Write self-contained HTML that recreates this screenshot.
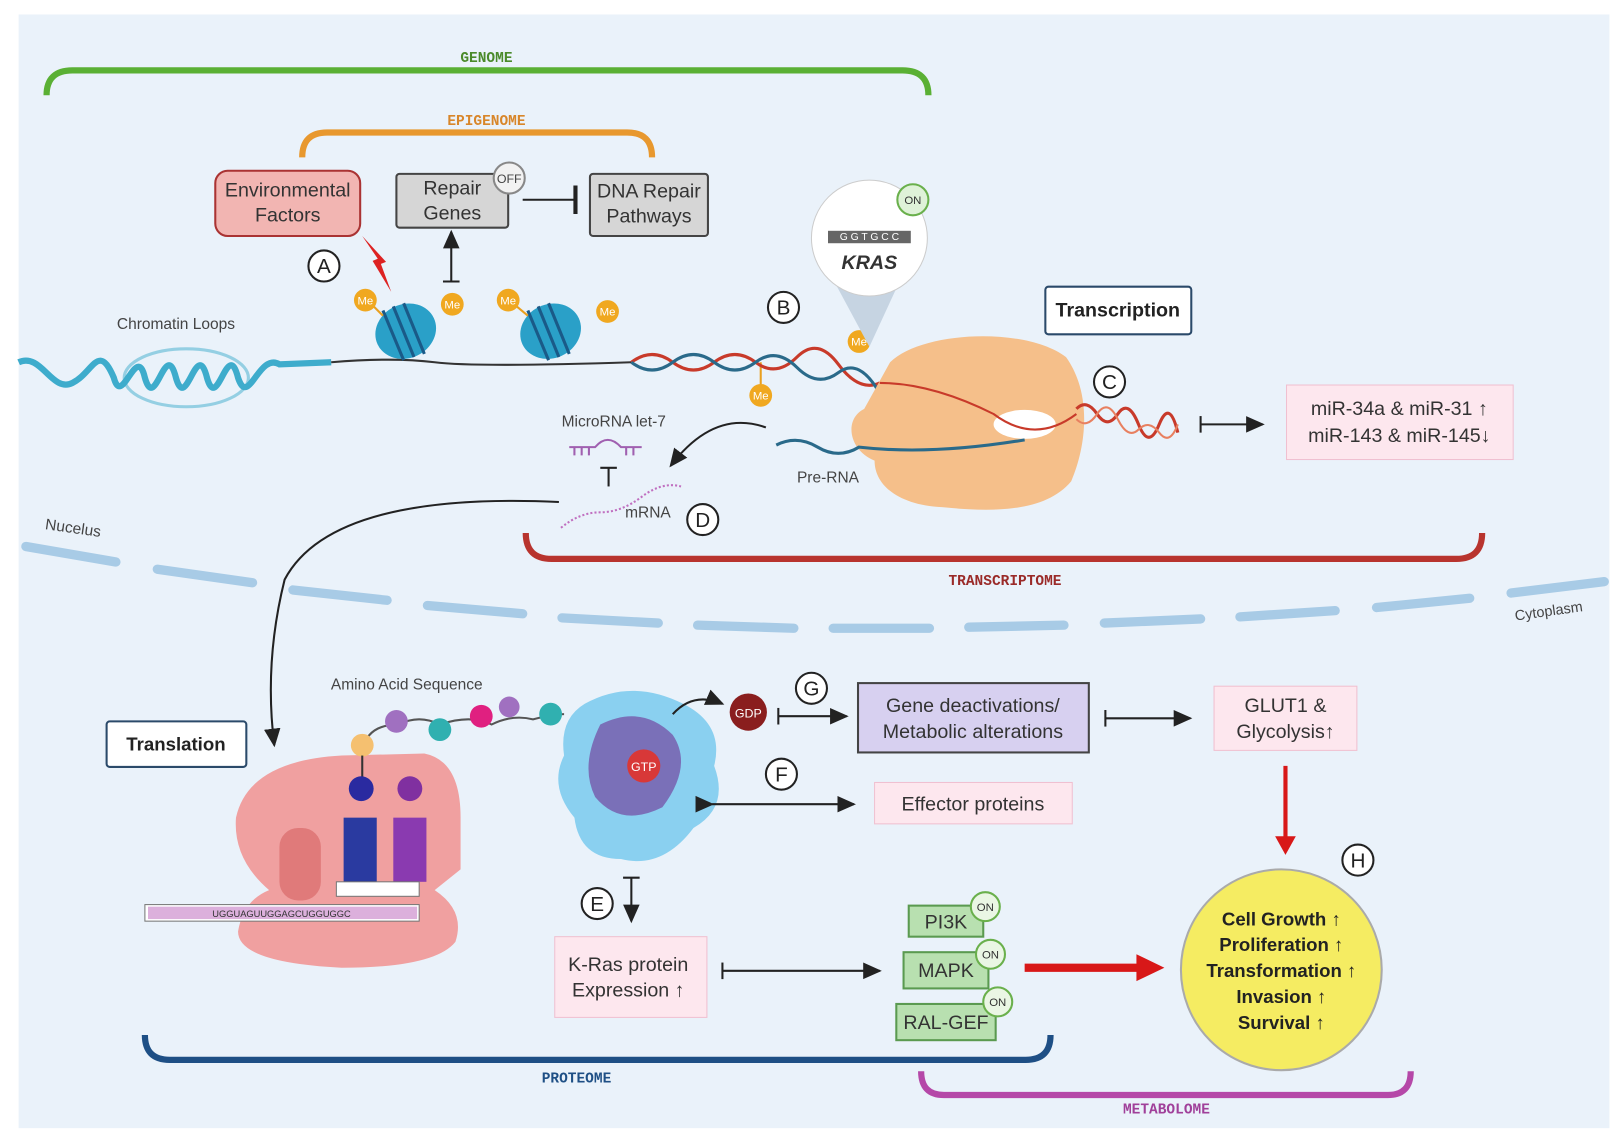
<!DOCTYPE html>
<html><head><meta charset="utf-8"><style>
html,body{margin:0;padding:0;background:#fff;}
svg{display:block;font-family:"Liberation Sans",sans-serif;}
.mono{font-family:"Liberation Mono",monospace;font-weight:bold;font-size:14px;}
.t{font-size:19px;fill:#333;}
.lb{font-size:15px;fill:#444;}
</style></head><body>
<svg width="1621" height="1139" viewBox="0 0 1621 1139" xmlns="http://www.w3.org/2000/svg">
<defs>
<marker id="ah" markerWidth="10" markerHeight="10" refX="8" refY="5" orient="auto"><path d="M0,1 L9,5 L0,9 Z" fill="#222"/></marker>
<marker id="tb" markerWidth="4" markerHeight="14" refX="2" refY="7" orient="auto"><path d="M2,0 L2,14" stroke="#222" stroke-width="2"/></marker>
</defs>
<g transform="scale(1.035)">
<rect x="18" y="14" width="1537" height="1076" fill="#eaf2fa"/>

<!-- brackets -->
<path d="M45,92 Q45,68 70,68 L872,68 Q897,68 897,92" fill="none" stroke="#5ab034" stroke-width="6"/>
<text x="470" y="60" class="mono" fill="#4a8a2a" text-anchor="middle">GENOME</text>
<path d="M292,152 Q292,128 316,128 L606,128 Q630,128 630,152" fill="none" stroke="#e8982e" stroke-width="6"/>
<text x="470" y="121" class="mono" fill="#d8862a" text-anchor="middle">EPIGENOME</text>
<path d="M508,515 Q508,540 533,540 L1407,540 Q1432,540 1432,515" fill="none" stroke="#b8342e" stroke-width="6"/>
<text x="971" y="565" class="mono" fill="#9a2a28" text-anchor="middle">TRANSCRIPTOME</text>
<path d="M140,1000 Q140,1024 164,1024 L991,1024 Q1015,1024 1015,1000" fill="none" stroke="#1e4f85" stroke-width="6"/>
<text x="557" y="1046" class="mono" fill="#1e4f85" text-anchor="middle">PROTEOME</text>
<path d="M890,1035 Q890,1058 912,1058 L1341,1058 Q1363,1058 1363,1035" fill="none" stroke="#b548a8" stroke-width="6"/>
<text x="1127" y="1076" class="mono" fill="#a0409a" text-anchor="middle">METABOLOME</text>

<!-- top boxes -->
<rect x="208" y="165" width="140" height="63" rx="12" fill="#f2b5b2" stroke="#a33" stroke-width="2"/>
<text x="278" y="190" class="t" text-anchor="middle">Environmental</text>
<text x="278" y="214" class="t" text-anchor="middle">Factors</text>
<rect x="383" y="168" width="108" height="52" rx="3" fill="#d6d6d6" stroke="#444" stroke-width="2"/>
<text x="437" y="188" class="t" text-anchor="middle">Repair</text>
<text x="437" y="212" class="t" text-anchor="middle">Genes</text>
<circle cx="492" cy="172" r="15" fill="#f2f2f2" stroke="#888" stroke-width="2"/>
<text x="492" y="177" font-size="12" fill="#444" text-anchor="middle">OFF</text>
<rect x="570" y="168" width="114" height="60" rx="3" fill="#d6d6d6" stroke="#444" stroke-width="2"/>
<text x="627" y="191" class="t" text-anchor="middle">DNA Repair</text>
<text x="627" y="215" class="t" text-anchor="middle">Pathways</text>
<line x1="505" y1="193" x2="556" y2="193" stroke="#222" stroke-width="2" marker-end="url(#tb)"/>
<line x1="436" y1="272" x2="436" y2="224" stroke="#222" stroke-width="2" marker-end="url(#ah)"/>
<line x1="428" y1="272" x2="444" y2="272" stroke="#222" stroke-width="2"/>
<path d="M350,228 L365,250 L360,252 L378,282 L368,255 L373,253 Z" fill="#d22"/>
<g font-size="20" fill="#222" text-anchor="middle">
<circle cx="313" cy="257" r="15" fill="#fff" stroke="#222" stroke-width="2"/><text x="313" y="264">A</text>
<circle cx="757" cy="297" r="15" fill="#fff" stroke="#222" stroke-width="2"/><text x="757" y="304">B</text>
<circle cx="1072" cy="369" r="15" fill="#fff" stroke="#222" stroke-width="2"/><text x="1072" y="376">C</text>
<circle cx="679" cy="502" r="15" fill="#fff" stroke="#222" stroke-width="2"/><text x="679" y="509">D</text>
<circle cx="577" cy="873" r="15" fill="#fff" stroke="#222" stroke-width="2"/><text x="577" y="880">E</text>
<circle cx="755" cy="748" r="15" fill="#fff" stroke="#222" stroke-width="2"/><text x="755" y="755">F</text>
<circle cx="784" cy="665" r="15" fill="#fff" stroke="#222" stroke-width="2"/><text x="784" y="672">G</text>
<circle cx="1312" cy="831" r="15" fill="#fff" stroke="#222" stroke-width="2"/><text x="1312" y="838">H</text>
</g>

<!-- chromatin -->
<text x="170" y="318" class="lb" text-anchor="middle">Chromatin Loops</text>
<path d="M18,350 C40,340 50,380 70,370 C90,360 95,330 110,365 C118,395 132,330 140,365 C150,400 160,325 170,365 C180,400 190,325 200,365 C210,400 220,325 230,365 C240,395 250,340 270,352 L320,350" fill="none" stroke="#3eaccc" stroke-width="6"/>
<ellipse cx="180" cy="365" rx="60" ry="28" fill="none" stroke="#3eaccc" stroke-width="3" opacity=".5"/>
<path d="M320,350 Q380,345 420,350 T610,350" fill="none" stroke="#333" stroke-width="2"/>
<g>
<ellipse cx="392" cy="320" rx="30" ry="26" fill="#2aa0c8" transform="rotate(-25 392 320)"/>
<path d="M380,296 L400,345 M390,293 L410,342 M370,300 L390,348" stroke="#1a5a88" stroke-width="3"/>
<ellipse cx="532" cy="320" rx="30" ry="26" fill="#2aa0c8" transform="rotate(-25 532 320)"/>
<path d="M520,296 L540,345 M530,293 L550,342 M510,300 L530,348" stroke="#1a5a88" stroke-width="3"/>
</g>
<g font-size="11" fill="#fff" text-anchor="middle">
<line x1="355" y1="290" x2="370" y2="305" stroke="#e9a020" stroke-width="2"/><circle cx="353" cy="290" r="11" fill="#f0a820"/><text x="353" y="294">Me</text>
<circle cx="437" cy="294" r="11" fill="#f0a820"/><text x="437" y="298">Me</text>
<line x1="492" y1="290" x2="510" y2="305" stroke="#e9a020" stroke-width="2"/><circle cx="491" cy="290" r="11" fill="#f0a820"/><text x="491" y="294">Me</text>
<circle cx="587" cy="301" r="11" fill="#f0a820"/><text x="587" y="305">Me</text>
<line x1="735" y1="350" x2="735" y2="380" stroke="#e9a020" stroke-width="2"/><circle cx="735" cy="382" r="11" fill="#f0a820"/><text x="735" y="386">Me</text>
<circle cx="830" cy="330" r="11" fill="#f0a820"/><text x="830" y="334">Me</text>
</g>
<!-- helix -->
<path d="M610,350 Q630,335 650,350 T690,350 T730,350 T770,345 T810,352 T850,370" fill="none" stroke="#c83a2a" stroke-width="3"/>
<path d="M610,350 Q630,365 650,350 T690,350 T730,350 T770,355 T810,360 T850,380" fill="none" stroke="#2a6a8a" stroke-width="3"/>
<!-- KRAS bubble -->
<path d="M805,270 L840,335 L870,270 Z" fill="#c6d4e2"/>
<circle cx="840" cy="230" r="56" fill="#fff" stroke="#ccc"/>
<rect x="800" y="223" width="80" height="12" fill="#666"/>
<text x="840" y="232" font-size="10" fill="#fff" text-anchor="middle">G G T G C C</text>
<text x="840" y="260" font-size="19" font-weight="bold" font-style="italic" fill="#333" text-anchor="middle">KRAS</text>
<circle cx="882" cy="193" r="15" fill="#dff2d8" stroke="#6ab04c" stroke-width="2"/>
<text x="882" y="197" font-size="11" fill="#333" text-anchor="middle">ON</text>
<rect x="1010" y="277" width="141" height="46" rx="3" fill="#fff" stroke="#2b4a6a" stroke-width="2"/>
<text x="1080" y="306" font-size="19" font-weight="bold" fill="#222" text-anchor="middle">Transcription</text>
<!-- polymerase -->
<path d="M860,350 C890,320 990,315 1030,345 C1055,380 1050,430 1035,465 C1010,495 960,495 910,490 C870,488 845,470 845,445 C820,435 815,405 835,395 Z" fill="#f5bf8a"/>
<ellipse cx="990" cy="410" rx="30" ry="14" fill="#fff"/>
<path d="M850,370 Q900,370 960,400 Q1000,430 1040,400" fill="none" stroke="#c83a2a" stroke-width="2"/>
<path d="M750,430 Q770,420 790,432 T830,432 Q900,440 990,425" fill="none" stroke="#2a6a8a" stroke-width="3"/>
<path d="M1040,395 Q1050,385 1060,400 T1080,400 T1100,410 T1120,410 T1138,418" fill="none" stroke="#c83a2a" stroke-width="3"/>
<path d="M1040,405 Q1050,415 1060,400 T1080,405 T1100,415 T1120,418 T1138,410" fill="none" stroke="#e88060" stroke-width="2"/>
<text x="800" y="466" class="lb" text-anchor="middle">Pre-RNA</text>
<line x1="1160" y1="410" x2="1220" y2="410" stroke="#222" stroke-width="2" marker-end="url(#ah)"/>
<line x1="1160" y1="402" x2="1160" y2="418" stroke="#222" stroke-width="2"/>
<rect x="1243" y="372" width="219" height="72" fill="#fde7ee" stroke="#f0c0d0"/>
<text x="1352" y="401" class="t" text-anchor="middle">miR-34a &amp; miR-31 ↑</text>
<text x="1352" y="427" class="t" text-anchor="middle">miR-143 &amp; miR-145↓</text>
<!-- miRNA -->
<text x="593" y="412" class="lb" text-anchor="middle">MicroRNA let-7</text>
<path d="M550,432 L575,432 Q587,418 600,432 L620,432 M555,432 v8 M562,432 v8 M569,432 v8 M605,432 v8 M612,432 v8" stroke="#a060b0" stroke-width="2" fill="none"/>
<line x1="588" y1="470" x2="588" y2="452" stroke="#222" stroke-width="2"/><line x1="580" y1="452" x2="596" y2="452" stroke="#222" stroke-width="2"/>
<path d="M542,510 Q560,495 580,495 T620,480 T658,470" fill="none" stroke="#c070c0" stroke-width="2" stroke-dasharray="2 2"/>
<text x="626" y="500" class="lb" text-anchor="middle">mRNA</text>
<path d="M740,413 Q690,395 648,450" fill="none" stroke="#222" stroke-width="2" marker-end="url(#ah)"/>
<path d="M540,485 Q320,475 275,560 Q255,640 265,720" fill="none" stroke="#222" stroke-width="2" marker-end="url(#ah)"/>

<!-- membrane -->
<g fill="none" stroke="#a8cbe6" stroke-width="9" stroke-linecap="round">
<line x1="25" y1="528" x2="112" y2="543"/><line x1="152" y1="550" x2="244" y2="563"/>
<line x1="283" y1="570" x2="374" y2="580"/><line x1="413" y1="585" x2="505" y2="593"/>
<line x1="543" y1="597" x2="636" y2="602"/><line x1="674" y1="604" x2="767" y2="607"/>
<line x1="805" y1="607" x2="898" y2="607"/><line x1="936" y1="606" x2="1028" y2="604"/>
<line x1="1067" y1="602" x2="1160" y2="598"/><line x1="1198" y1="596" x2="1290" y2="590"/>
<line x1="1330" y1="587" x2="1420" y2="578"/><line x1="1460" y1="573" x2="1550" y2="562"/>
</g>
<text x="70" y="515" class="lb" text-anchor="middle" transform="rotate(8 70 515)">Nucelus</text>
<text x="1497" y="595" font-size="14" fill="#444" text-anchor="middle" transform="rotate(-8 1497 595)">Cytoplasm</text>

<!-- translation -->
<rect x="103" y="697" width="135" height="44" rx="3" fill="#fff" stroke="#2b4a6a" stroke-width="2"/>
<text x="170" y="725" font-size="18" font-weight="bold" fill="#222" text-anchor="middle">Translation</text>
<text x="393" y="666" class="lb" text-anchor="middle">Amino Acid Sequence</text>
<path d="M228,790 Q240,735 330,730 L410,728 Q445,735 445,790 L445,840 L420,860 Q450,880 440,910 Q420,935 330,935 Q230,930 230,900 Q235,870 260,860 Q225,830 228,790 Z" fill="#f0a0a0"/>
<rect x="270" y="800" width="40" height="70" rx="18" fill="#e07a7a"/>
<path d="M350,725 Q355,700 385,700 Q405,690 425,700 Q455,690 475,700 Q495,690 515,695 Q535,690 545,690" fill="none" stroke="#555" stroke-width="2"/>
<circle cx="350" cy="720" r="11" fill="#f5c070"/><circle cx="383" cy="697" r="11" fill="#a070c0"/>
<circle cx="425" cy="705" r="11" fill="#30b0b0"/><circle cx="465" cy="692" r="11" fill="#e02080"/>
<circle cx="492" cy="683" r="10" fill="#a070c0"/><circle cx="532" cy="690" r="11" fill="#30b0b0"/>
<line x1="350" y1="730" x2="350" y2="755" stroke="#333" stroke-width="2"/>
<circle cx="349" cy="762" r="12" fill="#2a2aa0"/><rect x="332" y="790" width="32" height="62" fill="#2a3aa0"/>
<circle cx="396" cy="762" r="12" fill="#8030a0"/><rect x="380" y="790" width="32" height="62" fill="#8a3ab0"/>
<rect x="325" y="852" width="80" height="14" fill="#fff" stroke="#777"/>
<rect x="140" y="874" width="265" height="16" fill="#fff" stroke="#777"/>
<g fill="#c070c0"><rect x="143" y="876" width="260" height="12" opacity=".55"/></g>
<text x="272" y="886" font-size="9" fill="#333" text-anchor="middle">UGGUAGUUGGAGCUGGUGGC</text>
<!-- protein -->
<path d="M565,680 Q610,655 660,680 Q700,700 690,740 Q705,780 670,800 Q640,840 600,830 Q560,830 555,790 Q530,760 545,730 Q540,695 565,680 Z" fill="#8ad0f0"/>
<path d="M580,700 Q620,680 650,710 Q670,740 640,780 Q600,800 575,770 Q560,740 580,700 Z" fill="#7a70b8"/>
<circle cx="622" cy="740" r="16" fill="#d83838"/><text x="622" y="745" font-size="12" fill="#fff" text-anchor="middle">GTP</text>
<path d="M650,690 Q670,668 698,680" fill="none" stroke="#222" stroke-width="2" marker-end="url(#ah)"/>
<circle cx="723" cy="688" r="18" fill="#8a1e1e"/><text x="723" y="693" font-size="12" fill="#fff" text-anchor="middle">GDP</text>
<line x1="752" y1="692" x2="818" y2="692" stroke="#222" stroke-width="2" marker-end="url(#ah)"/><line x1="752" y1="684" x2="752" y2="700" stroke="#222" stroke-width="2"/>
<rect x="829" y="660" width="223" height="67" fill="#d7d0f0" stroke="#444" stroke-width="2"/>
<text x="940" y="688" class="t" text-anchor="middle">Gene deactivations/</text>
<text x="940" y="713" class="t" text-anchor="middle">Metabolic alterations</text>
<line x1="1068" y1="694" x2="1150" y2="694" stroke="#222" stroke-width="2" marker-end="url(#ah)"/><line x1="1068" y1="686" x2="1068" y2="702" stroke="#222" stroke-width="2"/>
<rect x="1173" y="663" width="138" height="62" fill="#fde7ee" stroke="#f0c0d0"/>
<text x="1242" y="688" class="t" text-anchor="middle">GLUT1 &amp;</text>
<text x="1242" y="713" class="t" text-anchor="middle">Glycolysis↑</text>
<line x1="688" y1="777" x2="825" y2="777" stroke="#222" stroke-width="2" marker-end="url(#ah)" marker-start="url(#ah)"/>
<rect x="845" y="756" width="191" height="40" fill="#fde7ee" stroke="#f0c0d0"/>
<text x="940" y="783" class="t" text-anchor="middle">Effector proteins</text>
<line x1="1242" y1="740" x2="1242" y2="812" stroke="#d81818" stroke-width="4"/>
<path d="M1232,808 L1252,808 L1242,826 Z" fill="#d81818"/>
<circle cx="1238" cy="937" r="97" fill="#f5ec62" stroke="#aaa" stroke-width="2"/>
<g font-size="18" font-weight="bold" fill="#222" text-anchor="middle">
<text x="1238" y="894">Cell Growth ↑</text><text x="1238" y="919">Proliferation ↑</text>
<text x="1238" y="944">Transformation ↑</text><text x="1238" y="969">Invasion ↑</text><text x="1238" y="994">Survival ↑</text></g>
<line x1="610" y1="848" x2="610" y2="890" stroke="#222" stroke-width="2" marker-end="url(#ah)"/><line x1="602" y1="848" x2="618" y2="848" stroke="#222" stroke-width="2"/>
<rect x="536" y="905" width="147" height="78" fill="#fde7ee" stroke="#f0c0d0"/>
<text x="607" y="938" class="t" text-anchor="middle">K-Ras protein</text>
<text x="607" y="963" class="t" text-anchor="middle">Expression ↑</text>
<line x1="698" y1="938" x2="850" y2="938" stroke="#222" stroke-width="2" marker-end="url(#ah)"/><line x1="698" y1="930" x2="698" y2="946" stroke="#222" stroke-width="2"/>
<g font-size="19" fill="#333" text-anchor="middle">
<rect x="878" y="875" width="72" height="30" fill="#b8e0b0" stroke="#5a9a50" stroke-width="2"/><text x="914" y="897">PI3K</text>
<rect x="873" y="920" width="82" height="35" fill="#b8e0b0" stroke="#5a9a50" stroke-width="2"/><text x="914" y="944">MAPK</text>
<rect x="866" y="970" width="96" height="35" fill="#b8e0b0" stroke="#5a9a50" stroke-width="2"/><text x="914" y="994">RAL-GEF</text>
</g>
<g font-size="11" fill="#333" text-anchor="middle">
<circle cx="952" cy="876" r="14" fill="#eaf6e4" stroke="#6ab04c" stroke-width="2"/><text x="952" y="880">ON</text>
<circle cx="957" cy="922" r="14" fill="#eaf6e4" stroke="#6ab04c" stroke-width="2"/><text x="957" y="926">ON</text>
<circle cx="964" cy="968" r="14" fill="#eaf6e4" stroke="#6ab04c" stroke-width="2"/><text x="964" y="972">ON</text>
</g>
<line x1="990" y1="935" x2="1100" y2="935" stroke="#d81818" stroke-width="8"/>
<path d="M1098,922 L1125,935 L1098,948 Z" fill="#d81818"/>
</g>
</svg>
</body></html>
